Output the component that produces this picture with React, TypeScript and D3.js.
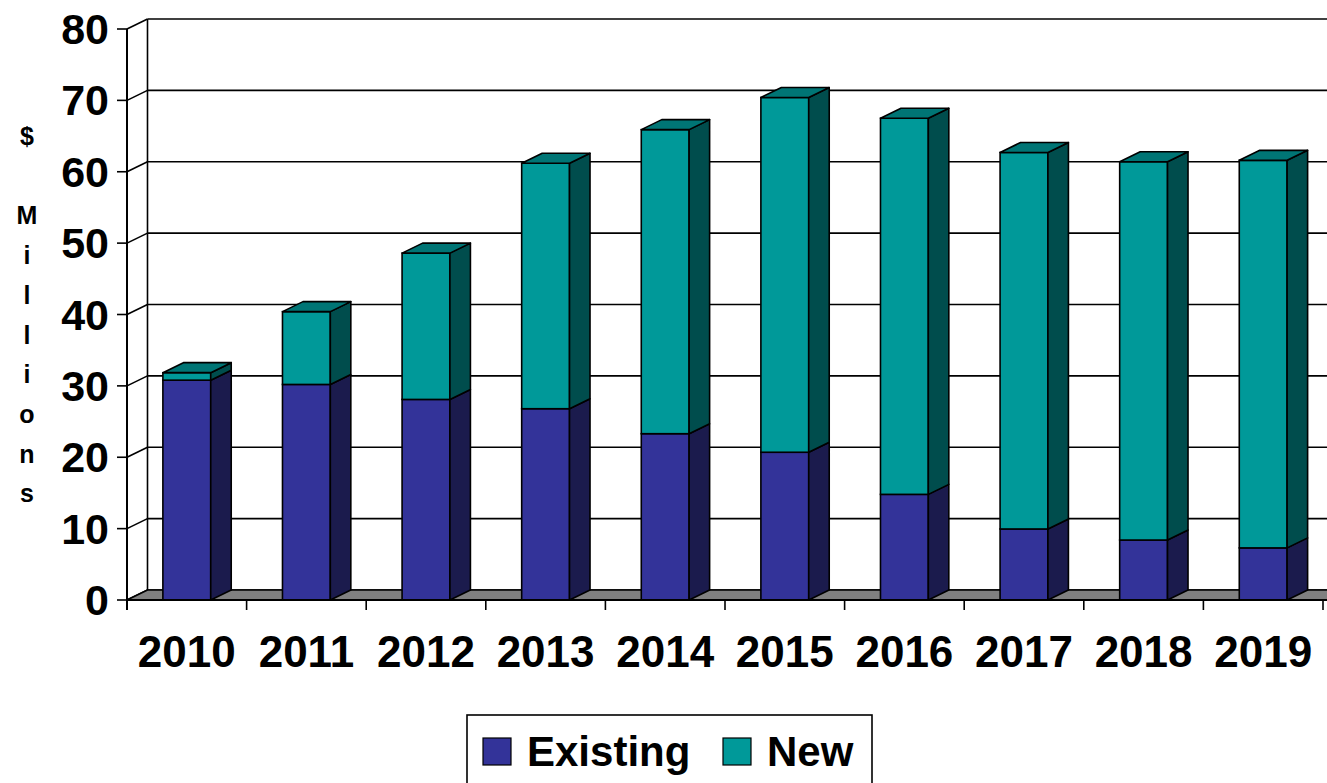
import React from "react";
import * as d3 from "d3";

const years = ["2010", "2011", "2012", "2013", "2014", "2015", "2016", "2017", "2018", "2019"];
const existing = [30.8, 30.2, 28.1, 26.8, 23.3, 20.7, 14.8, 9.95, 8.4, 7.3];
const newer = [1.05, 10.2, 20.5, 34.4, 42.6, 49.7, 52.7, 52.75, 53.0, 54.3];
const yTicks = [0, 10, 20, 30, 40, 50, 60, 70, 80];
const yTitle = ["$", "", "M", "i", "l", "l", "i", "o", "n", "s"];
const seriesNames = ["Existing", "New"];

const W = 1327;
const H = 783;
const FONT = "'Liberation Sans', Arial, Helvetica, sans-serif";
const DX = 20.5;
const DY = -10;

const colors = {
  Existing: { front: "#333399", side: "#1b1b4d", top: "#26267a" },
  New: { front: "#009999", side: "#004d4d", top: "#007575" },
};

export default function App() {
  const x = d3.scaleBand<string>().domain(years).range([127, 1323]).paddingInner(0).paddingOuter(0);
  const y = d3.scaleLinear().domain([0, 80]).range([600, 29]);
  const bw = x.bandwidth();
  const barW = bw * 0.4;
  const y0 = y(0);
  const xLeft = 127;
  const xRight = 1323;

  const poly = (pts: [number, number][]) => pts.map((p) => p.join(",")).join(" ");

  const bars: React.ReactNode[] = [];
  years.forEach((yr, i) => {
    const x0 = (x(yr) as number) + (bw - barW) / 2;
    const x1 = x0 + barW;
    const segs = [
      { name: "Existing", lo: 0, hi: existing[i] },
      { name: "New", lo: existing[i], hi: existing[i] + newer[i] },
    ];
    segs.forEach((s, k) => {
      const c = colors[s.name as "Existing" | "New"];
      const yt = y(s.hi);
      const yb = y(s.lo);
      bars.push(
        <g key={yr + s.name}>
          <rect x={x0} y={yt} width={barW} height={yb - yt} fill={c.front} stroke="#000" strokeWidth={1.6} />
          <polygon
            points={poly([[x1, yb], [x1 + DX, yb + DY], [x1 + DX, yt + DY], [x1, yt]])}
            fill={c.side}
            stroke="#000"
            strokeWidth={1.6}
            strokeLinejoin="round"
          />
          {k === segs.length - 1 && (
            <polygon
              points={poly([[x0, yt], [x0 + DX, yt + DY], [x1 + DX, yt + DY], [x1, yt]])}
              fill={c.top}
              stroke="#000"
              strokeWidth={1.6}
              strokeLinejoin="round"
            />
          )}
        </g>
      );
    });
  });

  return (
    <svg width={W} height={H} style={{ position: "absolute", left: 0, top: 0, background: "#fff" }}>
      {yTicks.map((t) => (
        <g key={"g" + t}>
          <line x1={xLeft + DX} x2={W + 30} y1={y(t) + DY} y2={y(t) + DY} stroke="#000" strokeWidth={1.6} />
          <line x1={xLeft} x2={xLeft + DX} y1={y(t)} y2={y(t) + DY} stroke="#000" strokeWidth={1.6} />
        </g>
      ))}
      <line x1={xLeft + DX} x2={xLeft + DX} y1={y(80) + DY} y2={y0 + DY} stroke="#000" strokeWidth={1.6} />
      <polygon
        points={poly([[xLeft, y0], [xLeft + DX, y0 + DY], [xRight + DX + 30, y0 + DY], [xRight + 30, y0]])}
        fill="#808080"
        stroke="#000"
        strokeWidth={1.6}
      />
      {bars}
      <line x1={xLeft} x2={xLeft} y1={y(80)} y2={y0 + 10} stroke="#000" strokeWidth={2} />
      {yTicks.map((t) => (
        <g key={"t" + t}>
          <line x1={xLeft - 10} x2={xLeft} y1={y(t)} y2={y(t)} stroke="#000" strokeWidth={1.6} />
          <text
            x={109}
            y={y(t) + 15}
            textAnchor="end"
            fontFamily={FONT}
            fontWeight="bold"
            fontSize={43}
            fill="#000"
          >
            {t}
          </text>
        </g>
      ))}
      <line x1={xLeft} x2={W + 10} y1={y0} y2={y0} stroke="#000" strokeWidth={2} />
      {years.map((yr) => (
        <g key={"x" + yr}>
          <line x1={(x(yr) as number) + bw} x2={(x(yr) as number) + bw} y1={y0} y2={y0 + 10} stroke="#000" strokeWidth={1.6} />
          <text
            x={(x(yr) as number) + bw / 2}
            y={667}
            textAnchor="middle"
            fontFamily={FONT}
            fontWeight="bold"
            fontSize={44}
            fill="#000"
          >
            {yr}
          </text>
        </g>
      ))}
      {yTitle.map((ch, i) => (
        <text
          key={"yt" + i}
          x={27}
          y={145 + i * 39.7}
          textAnchor="middle"
          fontFamily={FONT}
          fontWeight="bold"
          fontSize={25}
          fill="#000"
        >
          {ch}
        </text>
      ))}
      <rect x={467} y={715} width={405} height={90} fill="#fff" stroke="#000" strokeWidth={1.6} />
      {seriesNames.map((n, i) => {
        const sx = i === 0 ? 483 : 723;
        const c = colors[n as "Existing" | "New"];
        return (
          <g key={"l" + n}>
            <rect x={sx} y={738} width={28} height={27} fill={c.front} stroke="#000" strokeWidth={1.2} />
            <text x={sx + 44} y={766} fontFamily={FONT} fontWeight="bold" fontSize={42} fill="#000">
              {n}
            </text>
          </g>
        );
      })}
    </svg>
  );
}
